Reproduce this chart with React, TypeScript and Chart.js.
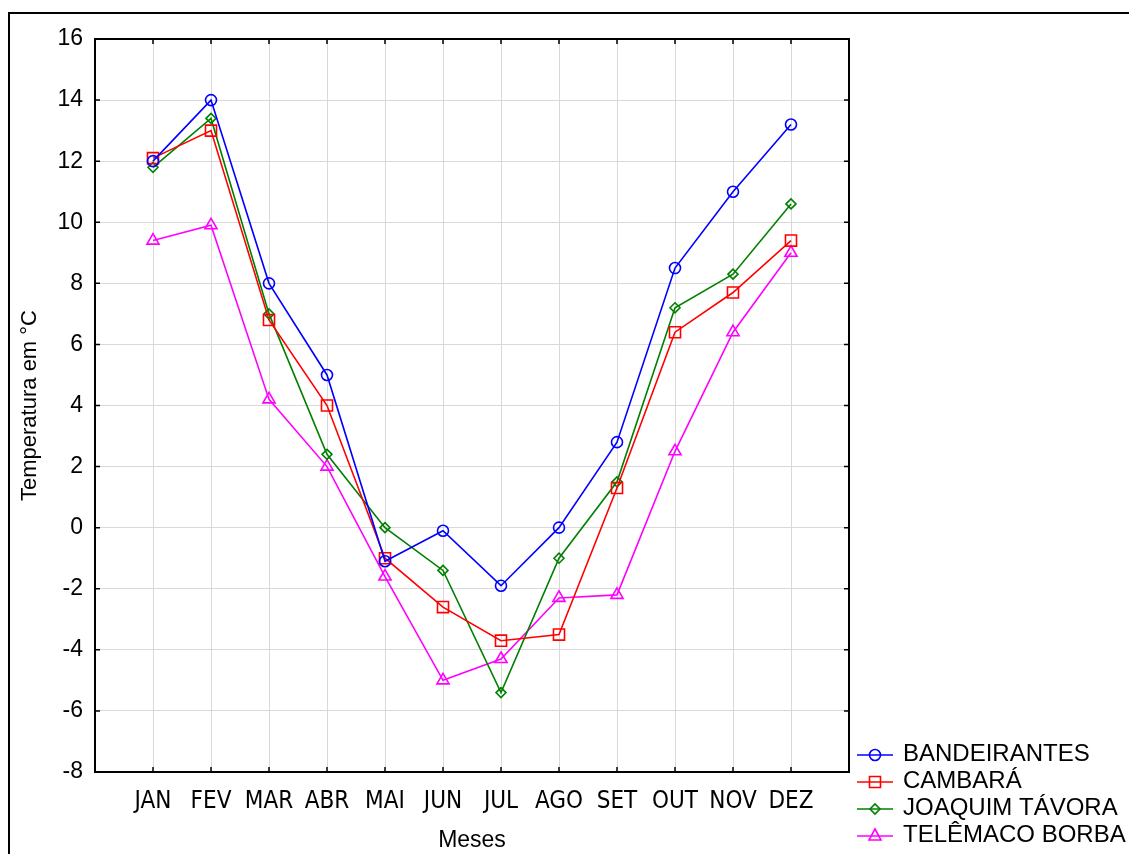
import React, { useEffect, useRef } from "react";
import { Chart, registerables } from "chart.js";

Chart.register(...registerables);

const months = ["JAN", "FEV", "MAR", "ABR", "MAI", "JUN", "JUL", "AGO", "SET", "OUT", "NOV", "DEZ"];
const seriesNames = ["BANDEIRANTES", "CAMBARÁ", "JOAQUIM TÁVORA", "TELÊMACO BORBA"];
const bandeirantes = [12.0, 14.0, 8.0, 5.0, -1.1, -0.1, -1.9, 0.0, 2.8, 8.5, 11.0, 13.2];
const cambara = [12.1, 13.0, 6.8, 4.0, -1.0, -2.6, -3.7, -3.5, 1.3, 6.4, 7.7, 9.4];
const joaquimTavora = [11.8, 13.4, 7.0, 2.4, 0.0, -1.4, -5.4, -1.0, 1.5, 7.2, 8.3, 10.6];
const telemacoBorba = [9.4, 9.9, 4.2, 2.0, -1.6, -5.0, -4.3, -2.3, -2.2, 2.5, 6.4, 9.0];
const yTicks = [-8, -6, -4, -2, 0, 2, 4, 6, 8, 10, 12, 14, 16];

const colors = ["#0000ff", "#ff0000", "#008000", "#ff00ff"];
const markers = ["circle", "rect", "rectRot", "triangle"];
const radii = [5.5, 7.8, 5, 7];
const allSeries = [bandeirantes, cambara, joaquimTavora, telemacoBorba];

function drawMarker(ctx: CanvasRenderingContext2D, kind: string, x: number, y: number) {
  ctx.beginPath();
  if (kind === "circle") {
    ctx.arc(x, y, 5.5, 0, Math.PI * 2);
  } else if (kind === "rect") {
    ctx.rect(x - 5.5, y - 5.5, 11, 11);
  } else if (kind === "rectRot") {
    ctx.moveTo(x - 5, y);
    ctx.lineTo(x, y - 5);
    ctx.lineTo(x + 5, y);
    ctx.lineTo(x, y + 5);
    ctx.closePath();
  } else {
    ctx.moveTo(x, y - 7);
    ctx.lineTo(x + 6, y + 4);
    ctx.lineTo(x - 6, y + 4);
    ctx.closePath();
  }
  ctx.stroke();
}

const framePlugin = {
  id: "framePlugin",
  afterDraw(chart: any) {
    const ctx: CanvasRenderingContext2D = chart.ctx;
    const { left, top, right, bottom } = chart.chartArea;
    const xs = chart.scales.x;
    const ys = chart.scales.y;
    ctx.save();
    ctx.strokeStyle = "#000";
    ctx.lineWidth = 2;
    ctx.strokeRect(left, top, right - left, bottom - top);
    ctx.lineWidth = 1.5;
    ctx.beginPath();
    yTicks.forEach((v) => {
      const py = ys.getPixelForValue(v);
      ctx.moveTo(left, py);
      ctx.lineTo(left + 5, py);
      ctx.moveTo(right, py);
      ctx.lineTo(right - 5, py);
    });
    months.forEach((_, i) => {
      const px = xs.getPixelForValue(i);
      ctx.moveTo(px, bottom);
      ctx.lineTo(px, bottom - 5);
      ctx.moveTo(px, top);
      ctx.lineTo(px, top + 5);
    });
    ctx.stroke();
    // outer frame
    ctx.lineWidth = 2;
    ctx.beginPath();
    ctx.moveTo(9, chart.height + 5);
    ctx.lineTo(9, 13);
    ctx.lineTo(chart.width + 5, 13);
    ctx.stroke();
    // legend
    ctx.font = "24px 'Liberation Sans', Arial, sans-serif";
    ctx.textBaseline = "alphabetic";
    ctx.textAlign = "left";
    seriesNames.forEach((name, i) => {
      const yc = 755 + 27 * i;
      ctx.strokeStyle = colors[i];
      ctx.lineWidth = 1.6;
      ctx.beginPath();
      ctx.moveTo(857, yc);
      ctx.lineTo(893, yc);
      ctx.stroke();
      drawMarker(ctx, markers[i], 875, yc);
      ctx.fillStyle = "#000";
      ctx.fillText(name, 903, yc + 6);
    });
    ctx.restore();
  },
};

export default function App() {
  const ref = useRef<HTMLCanvasElement | null>(null);
  useEffect(() => {
    document.body.style.margin = "0";
    const canvas = ref.current!;
    const chart = new Chart(canvas, {
      type: "line",
      data: {
        datasets: allSeries.map((vals, i) => ({
          label: seriesNames[i],
          data: vals.map((v, j) => ({ x: j, y: v })),
          borderColor: colors[i],
          borderWidth: 1.6,
          pointStyle: markers[i] as any,
          pointRadius: radii[i],
          pointBorderWidth: 1.6,
          pointBorderColor: colors[i],
          pointBackgroundColor: "rgba(0,0,0,0)",
          tension: 0,
        })),
      },
      options: {
        responsive: false,
        animation: false,
        devicePixelRatio: 1,
        layout: { padding: { top: 39, right: 280, left: 0, bottom: 0 } },
        plugins: { legend: { display: false }, tooltip: { enabled: false } },
        scales: {
          x: {
            type: "linear",
            min: -1,
            max: 12,
            afterFit: (s: any) => {
              s.height = 82;
            },
            afterBuildTicks: (s: any) => {
              const t = [];
              for (let i = -1; i <= 12; i++) t.push({ value: i });
              s.ticks = t;
            },
            ticks: {
              autoSkip: false,
              maxRotation: 0,
              padding: 15,
              color: "#000",
              font: { family: "'Liberation Sans Narrow', 'DejaVu Sans Condensed', 'Liberation Sans', sans-serif", size: 24 },
              callback: (v: any) => months[v as number] ?? "",
            },
            grid: { color: "#d9d9d9", lineWidth: 1, drawTicks: false },
            border: { display: false },
            title: {
              display: true,
              text: "Meses",
              color: "#000",
              font: { family: "'Liberation Sans', Arial, sans-serif", size: 23 },
              padding: { top: 0, bottom: 0 },
            },
          },
          y: {
            type: "linear",
            min: -8,
            max: 16,
            afterFit: (s: any) => {
              s.width = 95;
            },
            afterBuildTicks: (s: any) => {
              s.ticks = yTicks.map((v) => ({ value: v }));
            },
            ticks: {
              padding: 12,
              color: "#000",
              font: { family: "'Liberation Sans', Arial, sans-serif", size: 23 },
            },
            grid: { color: "#d9d9d9", lineWidth: 1, drawTicks: false },
            border: { display: false },
            title: {
              display: true,
              text: "Temperatura em °C",
              color: "#000",
              font: { family: "'Liberation Sans', Arial, sans-serif", size: 22 },
              padding: { top: 17, bottom: 0 },
            },
          },
        },
      },
      plugins: [framePlugin],
    });
    return () => chart.destroy();
  }, []);
  return <canvas ref={ref} width={1129} height={854} style={{ display: "block" }} />;
}
